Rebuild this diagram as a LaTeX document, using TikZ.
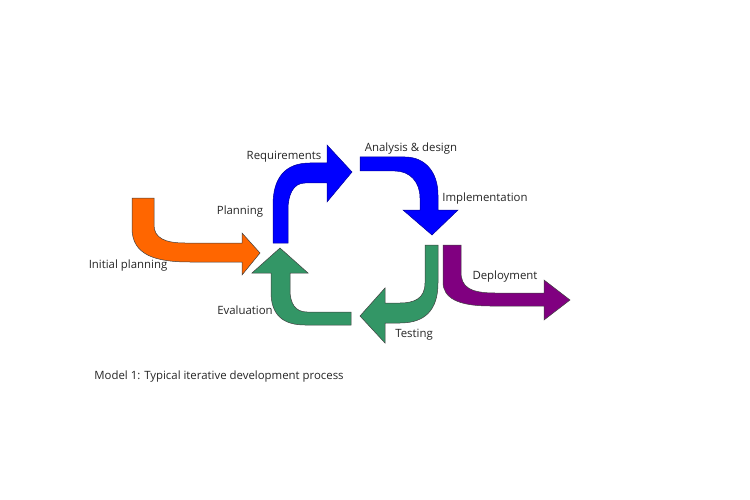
\documentclass[tikz,border=0pt]{standalone}
\usepackage{fontspec}
\setmainfont{Open Sans}
\begin{document}
\begin{tikzpicture}[x=1pt,y=-1pt,
  arrowshape/.style={draw=black!75,line width=0.5pt,line join=miter},
  lbl/.style={font=\fontsize{11.4}{13}\selectfont,text=black!85,inner sep=0pt}]
\definecolor{orng}{RGB}{255,102,0}
\definecolor{blu}{RGB}{0,0,255}
\definecolor{grn}{RGB}{51,150,102}
\definecolor{purp}{RGB}{128,0,128}
\useasboundingbox[fill=white] (0,0) rectangle (750,500);
% orange: initial planning
\filldraw[arrowshape,fill=orng] (132,198) -- (132,228) .. controls (132,255) and (155,262) .. (190,262) -- (242,262) -- (242,275) -- (260,253) -- (242,233) -- (242,243) -- (185,243) .. controls (165,243) and (154,238) .. (154,225) -- (154,198) -- cycle;
% blue: requirements
\filldraw[arrowshape,fill=blu,draw=blu!60!black] (273,243) -- (273,205) .. controls (273,178) and (285,163) .. (310,163) -- (327,163) -- (327,145) -- (352,172) -- (327,202) -- (327,183) -- (305,183) .. controls (293,183) and (288,195) .. (288,210) -- (288,243) -- cycle;
% blue: analysis & design
\filldraw[arrowshape,fill=blu,draw=blu!60!black] (360,157) -- (405,157) .. controls (425,157) and (438,172) .. (438,195) -- (438,210) -- (458,210) -- (432,235) -- (403,210) -- (420,210) -- (420,198) .. controls (420,182) and (410,171) .. (395,171) -- (360,171) -- cycle;
% green: testing
\filldraw[arrowshape,fill=grn] (425,245) -- (438,245) -- (438,283) .. controls (438,310) and (425,323) .. (400,323) -- (385,323) -- (385,343) -- (360,316) -- (385,288) -- (385,303) -- (400,303) .. controls (415,303) and (425,298) .. (425,283) -- cycle;
% green: evaluation
\filldraw[arrowshape,fill=grn] (351,312) -- (307,312) .. controls (295,312) and (290,303) .. (290,290) -- (290,273) -- (308,273) -- (280,248) -- (252,273) -- (271,273) -- (271,292) .. controls (271,315) and (283,325) .. (305,325) -- (351,325) -- cycle;
% purple: deployment
\filldraw[arrowshape,fill=purp] (443,245) -- (461,245) -- (461,272) .. controls (461,287) and (470,293) .. (495,293) -- (544,293) -- (544,280) -- (570,300) -- (544,320) -- (544,306) -- (490,306) .. controls (458,306) and (443,298) .. (443,282) -- cycle;
% labels
\node[lbl] (req) at (284,157) {Requirements};
\node[lbl] (ana) at (411,149) {Analysis \& design};
\node[lbl] (imp) at (485,199) {Implementation};
\node[lbl] (pla) at (240,212) {Planning};
\node[lbl] (ini) at (128,266) {Initial planning};
\node[lbl] (dep) at (505,277) {Deployment};
\node[lbl] (eva) at (245,310) {Evaluation};
\node[lbl] (tes) at (414,335) {Testing};
\node[lbl] (cap) at (219,377) {Model 1: Typical iterative development process};
\end{tikzpicture}
\end{document}
